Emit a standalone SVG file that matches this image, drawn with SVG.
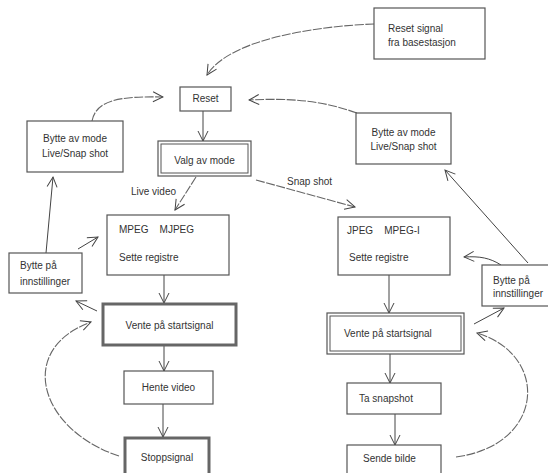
<svg xmlns="http://www.w3.org/2000/svg" width="548" height="473" viewBox="0 0 548 473">
<style>
  .box { fill: #fff; stroke: #555; stroke-width: 1.2; }
  .thick { fill: #fff; stroke: #666; stroke-width: 3; }
  .inner { fill: none; stroke: #555; stroke-width: 1; }
  .t { font-family: "Liberation Sans", Arial, sans-serif; font-size: 10px; fill: #333; }
  .c { text-anchor: middle; }
  .ln { fill: none; stroke: #444; stroke-width: 1; marker-end: url(#v); }
  .dash { fill: none; stroke: #666; stroke-width: 1.1; stroke-dasharray: 9 1.5; marker-end: url(#v); }
</style>
<defs>
  <marker id="v" viewBox="0 0 12 12" refX="11" refY="6" markerWidth="12" markerHeight="12" markerUnits="userSpaceOnUse" orient="auto">
    <path d="M1,1 L11,6 L1,11" fill="none" stroke="#444" stroke-width="1"/>
  </marker>
</defs>
<rect width="548" height="473" fill="#fff"/>

<g id="connectors">
  <path class="dash" d="M374,24 C320,26 230,38 207,75"/>
  <path class="ln" d="M203,111 L203,141"/>
  <path class="dash" d="M196,177 L175,210"/>
  <path class="dash" d="M256,180 L355,207"/>
  <path class="ln" d="M164,275 L164,303"/>
  <path class="ln" d="M164,346 L164,371"/>
  <path class="ln" d="M163,404 L163,437"/>
  <path class="dash" d="M119,456 C40,430 15,350 91,322"/>
  <path class="ln" d="M97,311 L76,301"/>
  <path class="ln" d="M78,249 L98,237"/>
  <path class="ln" d="M46,253 L53,177"/>
  <path class="dash" d="M92,121 C96,100 120,96 163,97"/>
  <path class="dash" d="M357,113 C320,100 290,98 249,100"/>
  <path class="ln" d="M528,263 L445,170"/>
  <path class="ln" d="M501,265 C490,258 480,256 464,257"/>
  <path class="ln" d="M474,324 L504,308"/>
  <path class="ln" d="M389,275 L389,313"/>
  <path class="ln" d="M390,354 L390,383"/>
  <path class="ln" d="M395,414 L395,445"/>
  <path class="dash" d="M456,457 C545,445 550,355 477,333"/>
</g>

<g id="reset-signal">
  <rect class="box" x="374" y="8" width="111" height="51"/>
  <text class="t" x="388" y="32">Reset signal</text>
  <text class="t" x="388" y="46">fra basestasjon</text>
</g>
<g id="reset">
  <rect class="box" x="180" y="87" width="51" height="24"/>
  <text class="t c" x="205.5" y="102">Reset</text>
</g>
<g id="valg-av-mode">
  <rect class="box" x="158" y="141" width="93" height="35"/>
  <rect class="inner" x="161" y="144" width="87" height="29"/>
  <text class="t c" x="204.5" y="164">Valg av mode</text>
</g>
<g id="bytte-mode-left">
  <rect class="box" x="27" y="121" width="96" height="51"/>
  <text class="t c" x="75" y="142">Bytte av mode</text>
  <text class="t c" x="75" y="157">Live/Snap shot</text>
</g>
<g id="bytte-mode-right">
  <rect class="box" x="356" y="113" width="95" height="51"/>
  <text class="t c" x="403.5" y="136">Bytte av mode</text>
  <text class="t c" x="403.5" y="150">Live/Snap shot</text>
</g>
<g id="live-label"><text class="t" x="131" y="195">Live video</text></g>
<g id="snap-label"><text class="t" x="287" y="185">Snap shot</text></g>
<g id="mpeg">
  <rect class="box" x="107" y="215" width="122" height="60"/>
  <text class="t" x="119" y="233" xml:space="preserve">MPEG    MJPEG</text>
  <text class="t" x="119" y="261">Sette registre</text>
</g>
<g id="jpeg">
  <rect class="box" x="338" y="217" width="112" height="58"/>
  <text class="t" x="347" y="234" xml:space="preserve">JPEG    MPEG-I</text>
  <text class="t" x="349" y="261">Sette registre</text>
</g>
<g id="bytte-paa-left">
  <rect class="box" x="9" y="253" width="73" height="40"/>
  <text class="t" x="20" y="269">Bytte på</text>
  <text class="t" x="20" y="285">innstillinger</text>
</g>
<g id="bytte-paa-right">
  <rect class="box" x="482" y="265" width="70" height="41"/>
  <text class="t" x="493" y="284">Bytte på</text>
  <text class="t" x="493" y="297">innstillinger</text>
</g>
<g id="vente-live">
  <rect class="thick" x="103" y="304" width="133" height="41"/>
  <text class="t c" x="169.5" y="329">Vente på startsignal</text>
</g>
<g id="vente-snap">
  <rect class="box" x="327" y="313" width="137" height="41"/>
  <rect class="inner" x="330" y="316" width="131" height="35"/>
  <text class="t" x="344" y="337">Vente på startsignal</text>
</g>
<g id="hente-video">
  <rect class="box" x="124" y="371" width="89" height="33"/>
  <text class="t c" x="168.5" y="391">Hente video</text>
</g>
<g id="stoppsignal">
  <rect class="thick" x="125" y="438" width="84" height="40"/>
  <text class="t c" x="167" y="461">Stoppsignal</text>
</g>
<g id="ta-snapshot">
  <rect class="box" x="347" y="383" width="94" height="31"/>
  <text class="t" x="359" y="402">Ta snapshot</text>
</g>
<g id="sende-bilde">
  <rect class="box" x="347" y="445" width="94" height="33"/>
  <text class="t" x="363" y="462">Sende bilde</text>
</g>
</svg>
